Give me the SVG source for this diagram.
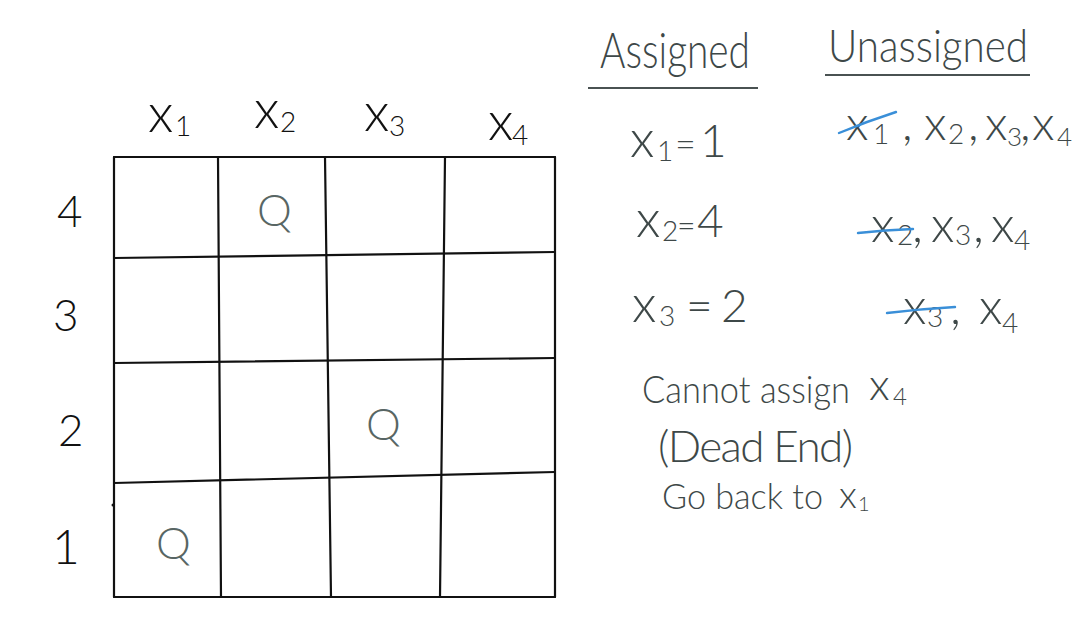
<svg xmlns="http://www.w3.org/2000/svg" width="1087" height="623" viewBox="0 0 1087 623">
<style>
.hw{font-family:Lato,"Liberation Sans",sans-serif;font-weight:300;fill:#3e4848}
.lbl{font-family:Lato,"Liberation Sans",sans-serif;font-weight:300;fill:#111}
.q{font-family:Lato,"Liberation Sans",sans-serif;font-weight:300;fill:#586664}
.g{stroke:#111;stroke-width:2.2;fill:none;stroke-linecap:round}
.ul{stroke:#4a5252;stroke-width:2;fill:none}
.st{stroke:#3a8fd8;stroke-width:2.4;fill:none;stroke-linecap:round}
.sb{font-size:28px}
.sbs{font-size:24px}
</style>
<rect width="1087" height="623" fill="#fff"/>

<g id="connectors">
  <g id="grid">
    <line class="g" x1="114" y1="157" x2="555" y2="157"/>
    <line class="g" x1="114" y1="597" x2="555" y2="597"/>
    <line class="g" x1="114" y1="157" x2="114" y2="597"/>
    <line class="g" x1="555" y1="157" x2="555" y2="597"/>
    <line class="g" x1="218" y1="157" x2="221" y2="597"/>
    <line class="g" x1="325" y1="157" x2="331" y2="597"/>
    <line class="g" x1="445" y1="157" x2="440" y2="597"/>
    <line class="g" x1="114" y1="258" x2="555" y2="252"/>
    <line class="g" x1="114" y1="363" x2="555" y2="358"/>
    <line class="g" x1="114" y1="483" x2="555" y2="472"/>
    <circle cx="113" cy="505" r="1.5" fill="#111"/>
  </g>
</g>

<g id="col-labels">
  <text class="lbl" font-size="54" y="132"><tspan x="148">x</tspan><tspan class="sb" x="175" y="136">1</tspan></text>
  <text class="lbl" font-size="54" y="128"><tspan x="254">x</tspan><tspan class="sb" x="280" y="132">2</tspan></text>
  <text class="lbl" font-size="54" y="131"><tspan x="364">x</tspan><tspan class="sb" x="389" y="136">3</tspan></text>
  <text class="lbl" font-size="54" y="140"><tspan x="488">x</tspan><tspan class="sb" x="512" y="145">4</tspan></text>
</g>

<g id="row-labels">
  <text class="lbl" x="57" y="227" font-size="44">4</text>
  <text class="lbl" x="53" y="331" font-size="44">3</text>
  <text class="lbl" x="58" y="446" font-size="44">2</text>
  <text class="lbl" x="52" y="564" font-size="48">1</text>
</g>

<g id="queens">
  <text class="q" x="257" y="226" font-size="44" textLength="30">Q</text>
  <text class="q" x="366" y="440" font-size="44" textLength="30">Q</text>
  <text class="q" x="156" y="559" font-size="44" textLength="29">Q</text>
</g>

<g id="assigned">
  <text class="hw" x="600" y="68" font-size="50" textLength="150" lengthAdjust="spacingAndGlyphs">Assigned</text>
  <line class="ul" x1="588" y1="88" x2="758" y2="88"/>
  <text class="hw" font-size="46" y="157"><tspan x="630" font-size="52">x</tspan><tspan class="sb" x="657" y="161">1</tspan><tspan x="675" y="157" font-size="36">=</tspan><tspan x="700">1</tspan></text>
  <text class="hw" font-size="46" y="237"><tspan x="636" font-size="52">x</tspan><tspan class="sb" x="662" y="241">2</tspan><tspan x="677" y="237" font-size="32">=</tspan><tspan x="697">4</tspan></text>
  <text class="hw" font-size="46" y="322"><tspan x="632" font-size="52">x</tspan><tspan class="sb" x="659" y="326">3</tspan><tspan x="686" y="322">=</tspan><tspan x="721">2</tspan></text>
</g>

<g id="unassigned">
  <text class="hw" x="828" y="62" font-size="46" textLength="200" lengthAdjust="spacingAndGlyphs">Unassigned</text>
  <line class="ul" x1="825" y1="75" x2="1030" y2="75"/>
  <text class="hw" font-size="48" y="140"><tspan x="846">x</tspan><tspan class="sb" x="873" y="144">1</tspan><tspan x="902" y="140">,</tspan><tspan x="924">x</tspan><tspan class="sb" x="948" y="144">2</tspan><tspan x="968" y="140">,</tspan><tspan x="985">x</tspan><tspan font-size="26" x="1007" y="146">3</tspan><tspan x="1020" y="140">,</tspan><tspan x="1032">x</tspan><tspan font-size="26" x="1057" y="146">4</tspan></text>
  <path class="st" d="M839,133 Q868,121 896,112"/>
  <text class="hw" font-size="50" y="242"><tspan x="871">x</tspan><tspan class="sb" x="897" y="245">2</tspan><tspan x="912" y="242">,</tspan><tspan x="931">x</tspan><tspan class="sb" x="955" y="245">3</tspan><tspan x="973" y="242">,</tspan><tspan x="991">x</tspan><tspan class="sb" x="1014" y="250">4</tspan></text>
  <path class="st" d="M858,233 Q885,230 913,229"/>
  <text class="hw" font-size="50" y="324"><tspan x="903">x</tspan><tspan class="sb" x="927" y="327">3</tspan><tspan x="950" y="324">,</tspan><tspan x="979">x</tspan><tspan class="sb" x="1002" y="333">4</tspan></text>
  <path class="st" d="M887,313 Q920,309 955,307"/>
</g>

<g id="notes">
  <text class="hw" x="642" y="403" font-size="37" textLength="208" lengthAdjust="spacingAndGlyphs">Cannot assign</text>
  <text class="hw" font-size="44" y="400"><tspan x="869">x</tspan><tspan class="sbs" x="893" y="405">4</tspan></text>
  <text class="hw" x="658" y="462" font-size="44" textLength="195">(Dead End)</text>
  <text class="hw" x="662" y="509" font-size="35" textLength="161" lengthAdjust="spacingAndGlyphs">Go back to</text>
  <text class="hw" font-size="38" y="508"><tspan x="839">x</tspan><tspan font-size="20" x="858" y="511">1</tspan></text>
</g>
</svg>
